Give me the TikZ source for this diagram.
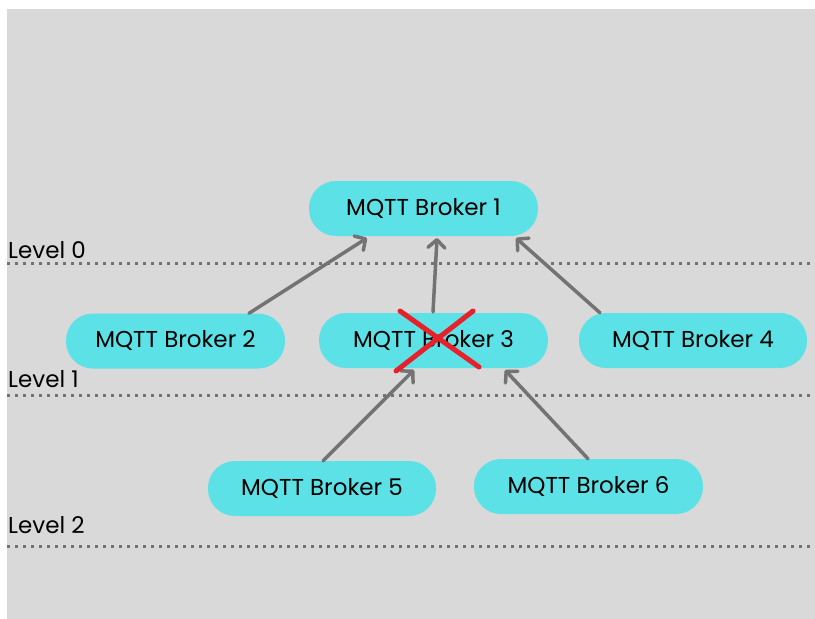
\documentclass[tikz,border=0pt]{standalone}
\usepackage{fontspec}
\setmainfont{Poppins}
\usetikzlibrary{arrows.meta}
\definecolor{bggray}{HTML}{D9D9D9}
\definecolor{pill}{HTML}{5CE1E6}
\definecolor{linkgray}{HTML}{737373}
\definecolor{crossred}{HTML}{E8202A}
\tikzset{
  broker/.style={fill=pill, rounded corners=27pt, minimum width=229pt,
    minimum height=55pt, inner sep=0pt, font=\fontsize{23}{26}\selectfont, text=black},
  link/.style={draw=linkgray, line width=3.5pt, line cap=round,
    -{Straight Barb[length=8pt, width=17pt, line width=3.5pt, round]}},
  levelline/.style={draw=linkgray, line width=3pt, dash pattern=on 3pt off 5pt},
  levellabel/.style={anchor=base west, inner sep=0pt, font=\fontsize{23}{26}\selectfont, text=black},
}
\begin{document}
\begin{tikzpicture}[x=1pt, y=-1pt]
  \useasboundingbox (0,0) rectangle (815,619);
  \fill[white] (0,0) rectangle (815,619);
  \fill[bggray] (7,9) rectangle (815,619);

  % level separators
  \draw[levelline] (7,263) -- (815,263);
  \draw[levelline] (7,395) -- (815,395);
  \draw[levelline] (7,546) -- (815,546);
  \node[levellabel] (l0) at (8,258) {Level 0};
  \node[levellabel] (l1) at (8,387) {Level 1};
  \node[levellabel] (l2) at (8,533) {Level 2};

  % brokers
  \node[broker] (b1) at (423.5,208.5) {MQTT Broker 1};
  \node[broker, minimum width=219pt] (b2) at (175.5,341) {MQTT Broker 2};
  \node[broker] (b3) at (433.5,340.5) {MQTT Broker 3};
  \node[broker, minimum width=228pt] (b4) at (693,340.5) {MQTT Broker 4};
  \node[broker, minimum width=228pt] (b5) at (322,488.5) {MQTT Broker 5};
  \node[broker] (b6) at (588.5,486.5) {MQTT Broker 6};

  % links towards the parent broker
  \coordinate (b1a) at (367,238);
  \coordinate (b1b) at (437,238);
  \coordinate (b1c) at (516,238);
  \coordinate (b3a) at (414,370);
  \coordinate (b3b) at (505,370);
  \draw[link] (b2.north -| 249,0) -- (b1a);
  \draw[link] (433,312) -- (b1b);
  \draw[link] (b4.north -| 600,0) -- (b1c);
  \draw[link] (b5.north -| 323,0) -- (b3a);
  \draw[link] (b6.north -| 588,0) -- (b3b);

  % failed broker
  \draw[crossred, line width=5pt, line cap=round] (400,311) -- (479,367);
  \draw[crossred, line width=5pt, line cap=round] (473,311) -- (396,371);
\end{tikzpicture}
\end{document}
